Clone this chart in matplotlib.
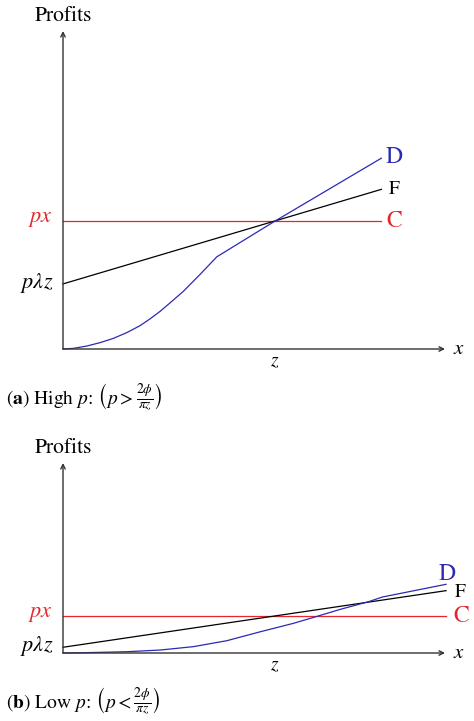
import matplotlib
matplotlib.use("Agg")
import matplotlib.pyplot as plt

plt.rcParams['font.family'] = ['STIXGeneral', 'DejaVu Serif']
plt.rcParams['mathtext.fontset'] = 'stix'

# ---- data (units where z = 1) ----
Z_POS = 1.0
# panel (a): high p
A_X_END = 1.5
A_PX = 0.604
A_PLZ = 0.307
A_F_END = 0.753
A_D_X = [0.0, 0.049, 0.112, 0.175, 0.237, 0.300, 0.363, 0.410, 0.458, 0.505, 0.567, 0.646, 0.725, 1.0, 1.5]
A_D_Y = [0.0, 0.003, 0.014, 0.030, 0.050, 0.077, 0.110, 0.142, 0.178, 0.218, 0.272, 0.352, 0.435, 0.604, 0.900]
# panel (b): low p
B_X_END = 1.805
B_PX = 0.175
B_PLZ = 0.027
B_F_END = 0.294
B_D_X = [0.0, 0.080, 0.300, 0.458, 0.615, 0.772, 0.929, 1.086, 1.181, 1.307, 1.440, 1.505, 1.805]
B_D_Y = [0.0, 0.001, 0.006, 0.014, 0.030, 0.058, 0.100, 0.140, 0.168, 0.206, 0.242, 0.264, 0.324]

CAPTIONS = [r"($\mathbf{a}$) High $p$: $\left(p > \frac{2\phi}{\pi z}\right)$",
            r"($\mathbf{b}$) Low $p$: $\left(p < \frac{2\phi}{\pi z}\right)$"]

RED = "#e5262c"
BLUE = "#2a2ab4"
AX_COL = "#333333"

W, H = 474, 721
fig = plt.figure(figsize=(W / 100, H / 100), dpi=100)


def panel(rect_px, xmax, ymax, x_end, px, plz, f_end, dx, dy, caption, label_offsets):
    l, t, r, b = rect_px
    ax = fig.add_axes([l / W, (H - b) / H, (r - l) / W, (b - t) / H])
    ax.set_xlim(0, xmax)
    ax.set_ylim(0, ymax)
    ax.axis('off')
    arrow = dict(arrowstyle='->', lw=1.0, color=AX_COL, mutation_scale=8, shrinkA=0, shrinkB=0)
    ax.annotate('', xy=(xmax, 0), xytext=(0, 0), arrowprops=arrow, annotation_clip=False)
    ax.annotate('', xy=(0, ymax), xytext=(0, 0), arrowprops=arrow, annotation_clip=False)
    # lines
    ax.plot([0, x_end], [px, px], color=RED, lw=0.9, clip_on=False)
    ax.plot([0, x_end], [plz, f_end], color='black', lw=0.9, clip_on=False)
    ax.plot(dx, dy, color=BLUE, lw=0.9, clip_on=False)
    # labels
    kw = dict(textcoords='offset points', ha='center', va='center', annotation_clip=False)
    ax.annotate("Profits", xy=(0, ymax), xytext=(0, 11), fontsize=15.5, **kw)
    ax.annotate(r"$x$", xy=(xmax, 0), xytext=(10, 0), fontsize=15, **kw)
    ax.annotate(r"$z$", xy=(Z_POS, 0), xytext=(0, -9), fontsize=14, **kw)
    kw_r = dict(textcoords='offset points', ha='right', va='center', annotation_clip=False)
    ax.annotate(r"$px$", xy=(0, px), xytext=(-7, 1), fontsize=16, color=RED, **kw_r)
    ax.annotate(r"$p\lambda z$", xy=(0, plz), xytext=(-7, 1), fontsize=16, **kw_r)
    (dox, doy), (fox, foy), (cox, coy) = label_offsets
    ax.annotate("D", xy=(dx[-1], dy[-1]), xytext=(dox, doy), fontsize=17, color=BLUE, **kw)
    ax.annotate("F", xy=(x_end, f_end), xytext=(fox, foy), fontsize=14, **kw)
    ax.annotate("C", xy=(x_end, px), xytext=(cox, coy), fontsize=17, color=RED, **kw)
    ax.annotate(caption, xy=(0, 0), xycoords='axes fraction', xytext=(-41, -35),
                textcoords='offset points', ha='left', va='center', fontsize=14,
                annotation_clip=False)
    return ax


panel((63, 31, 445, 349), 1.80, 1.5, A_X_END, A_PX, A_PLZ, A_F_END, A_D_X, A_D_Y,
      CAPTIONS[0], [(9, 1), (9, 0), (9, 0)])
panel((63, 463, 445, 653), 1.80, 0.896, B_X_END, B_PX, B_PLZ, B_F_END, B_D_X, B_D_Y,
      CAPTIONS[1], [(1, 7.5), (10, -1), (11, 0)])

fig.savefig("out.png", dpi=100, facecolor='white')
